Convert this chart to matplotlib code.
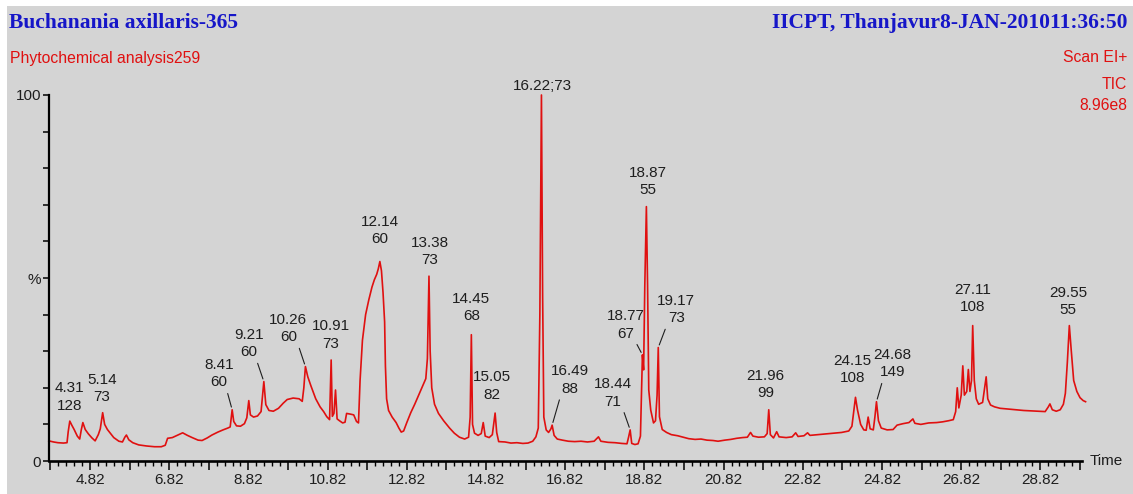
import matplotlib
matplotlib.use('Agg')
import matplotlib.pyplot as plt
import numpy as np
from matplotlib import font_manager
from matplotlib.patches import Rectangle
from matplotlib.ticker import FixedLocator

# retention time (min) and relative abundance (%)
rt = [3.78, 3.90, 4.01, 4.15, 4.24, 4.27, 4.31, 4.36, 4.42, 4.50, 4.56, 4.60, 4.64, 4.70, 4.78,
      4.87, 4.95, 5.03, 5.08, 5.14, 5.19, 5.26, 5.34, 5.42, 5.55, 5.64, 5.70, 5.74, 5.80, 5.90,
      6.05, 6.25, 6.45, 6.62, 6.72, 6.78, 6.90, 7.00, 7.10, 7.16, 7.28, 7.40, 7.55, 7.65, 7.78,
      7.90, 8.05, 8.18, 8.30, 8.36, 8.41, 8.45, 8.52, 8.62, 8.72, 8.78, 8.83, 8.87, 8.95, 9.05,
      9.14, 9.21, 9.26, 9.34, 9.45, 9.58, 9.70, 9.80, 9.95, 10.10, 10.18, 10.22, 10.26, 10.32,
      10.40, 10.52, 10.63, 10.72, 10.80, 10.87, 10.91, 10.94, 10.98, 11.02, 11.06, 11.12, 11.20,
      11.26, 11.30, 11.40, 11.48, 11.55, 11.60, 11.64, 11.70, 11.78, 11.86, 11.94, 12.00, 12.06,
      12.10, 12.14, 12.18, 12.22, 12.26, 12.28, 12.31, 12.36, 12.45, 12.55, 12.62, 12.68, 12.74,
      12.82, 12.92, 13.02, 13.12, 13.22, 13.30, 13.34, 13.38, 13.41, 13.45, 13.52, 13.62, 13.75,
      13.90, 14.02, 14.15, 14.28, 14.38, 14.42, 14.45, 14.48, 14.53, 14.62, 14.70, 14.75, 14.80,
      14.90, 14.98, 15.05, 15.09, 15.14, 15.30, 15.45, 15.60, 15.75, 15.88, 16.00, 16.08, 16.14,
      16.18, 16.22, 16.25, 16.28, 16.34, 16.40, 16.46, 16.49, 16.54, 16.62, 16.75, 16.90, 17.06,
      17.22, 17.38, 17.55, 17.66, 17.72, 17.90, 18.08, 18.25, 18.38, 18.42, 18.46, 18.50, 18.58,
      18.66, 18.72, 18.75, 18.77, 18.80, 18.83, 18.87, 18.90, 18.93, 18.98, 19.05, 19.10, 19.14,
      19.17, 19.20, 19.27, 19.38, 19.50, 19.66, 19.80, 19.94, 20.10, 20.25, 20.40, 20.55, 20.68,
      20.85, 21.00, 21.15, 21.30, 21.42, 21.50, 21.56, 21.70, 21.85, 21.92, 21.96, 22.00, 22.08,
      22.16, 22.22, 22.40, 22.55, 22.64, 22.70, 22.85, 22.94, 23.00, 23.20, 23.40, 23.60, 23.80,
      23.98, 24.06, 24.10, 24.15, 24.20, 24.28, 24.36, 24.42, 24.47, 24.52, 24.60, 24.64, 24.68,
      24.73, 24.80, 24.95, 25.10, 25.20, 25.35, 25.50, 25.60, 25.65, 25.80, 26.00, 26.20, 26.35,
      26.50, 26.62, 26.68, 26.72, 26.76, 26.82, 26.86, 26.90, 26.96, 27.00, 27.04, 27.08, 27.11,
      27.15, 27.20, 27.26, 27.36, 27.41, 27.45, 27.49, 27.56, 27.66, 27.80, 28.00, 28.20, 28.40,
      28.57, 28.75, 28.94, 29.02, 29.06, 29.12, 29.22, 29.32, 29.40, 29.45, 29.50, 29.55, 29.60,
      29.66, 29.74, 29.82, 29.90, 29.96]
pct = [5.5, 5.2, 5.0, 4.9, 5.0, 8.0, 10.9, 9.8, 8.6, 6.8, 6.0, 8.5, 10.5, 8.6, 7.4,
       6.3, 5.5, 7.2, 8.8, 13.2, 10.0, 8.6, 7.5, 6.4, 5.4, 5.2, 6.5, 7.1, 5.8, 5.0,
       4.4, 4.1, 3.9, 3.9, 4.3, 6.2, 6.4, 6.9, 7.4, 7.7, 7.0, 6.4, 5.7, 5.6, 6.3,
       7.1, 7.9, 8.5, 9.0, 9.3, 14.0, 10.8, 9.6, 9.5, 10.2, 11.8, 16.5, 12.6, 12.0, 12.3,
       13.5, 21.7, 15.4, 13.8, 13.6, 14.4, 15.8, 16.8, 17.2, 17.0, 16.3, 20.0, 25.8, 23.0,
       20.5, 17.0, 14.8, 13.5, 12.1, 11.3, 27.6, 12.2, 13.0, 19.4, 11.5, 11.0, 10.4,
       10.6, 13.0, 12.8, 12.6, 10.8, 10.4, 22.0, 33.0, 40.0, 44.0, 47.5, 49.5, 51.0,
       52.5, 54.5, 52.0, 46.0, 38.0, 26.0, 17.0, 13.8, 12.0, 10.5, 9.0, 7.9, 8.2,
       10.5, 13.2, 15.5, 18.0, 20.5, 22.5, 28.0, 50.5, 30.0, 20.0, 15.5, 13.0, 11.0,
       9.0, 7.6, 6.5, 6.0, 6.5, 12.0, 34.5, 10.0, 7.6, 7.0, 7.5, 10.5, 6.8,
       6.4, 7.2, 13.1, 7.8, 5.3, 5.2, 4.9, 5.0, 4.8, 4.9, 5.4, 6.6, 9.0,
       40.0, 100.0, 45.0, 12.0, 8.5, 7.8, 8.8, 9.8, 7.0, 6.0, 5.7, 5.4, 5.3,
       5.4, 5.2, 5.4, 6.6, 5.4, 5.1, 5.0, 4.8, 4.7, 6.5, 8.5, 4.8, 4.5,
       4.7, 6.8, 20.0, 29.0, 24.9, 48.0, 69.5, 48.0, 19.4, 13.9, 10.4, 11.0, 18.0,
       31.0, 12.1, 8.6, 7.8, 7.2, 6.9, 6.5, 6.1, 5.9, 6.0, 5.7, 5.6, 5.4,
       5.7, 5.9, 6.2, 6.4, 6.5, 7.8, 6.8, 6.5, 6.6, 7.5, 14.0, 7.2, 6.3,
       8.0, 6.6, 6.4, 6.6, 7.7, 6.7, 6.9, 7.7, 7.0, 7.2, 7.4, 7.6, 7.8,
       8.2, 9.5, 13.0, 17.4, 14.0, 10.0, 8.5, 8.4, 12.0, 8.8, 8.5, 12.0, 16.2,
       11.0, 9.0, 8.5, 8.6, 9.8, 10.2, 10.5, 11.5, 10.3, 10.0, 10.4, 10.5, 10.7,
       11.0, 11.3, 13.5, 20.0, 14.5, 18.0, 26.0, 18.0, 19.0, 25.0, 19.0, 22.0, 37.0,
       22.0, 17.0, 15.5, 16.0, 20.0, 23.0, 17.0, 15.3, 14.8, 14.4, 14.2, 14.0, 13.8,
       13.7, 13.6, 13.5, 14.8, 15.6, 14.0, 13.6, 14.0, 15.5, 18.5, 27.0, 37.0, 30.0,
       22.0, 19.0, 17.3, 16.5, 16.2]

# peak annotations: retention time and text
peak_rt = [4.31, 5.14, 8.41, 9.21, 10.26, 10.91, 12.14, 13.38, 14.45, 15.05, 16.22,
           16.49, 18.46, 18.77, 18.87, 19.17, 21.96, 24.15, 24.68, 27.11, 29.55]
peak_text = ['4.31\n128', '5.14\n73', '8.41\n60', '9.21\n60', '10.26\n60', '10.91\n73',
             '12.14\n60', '13.38\n73', '14.45\n68', '15.05\n82', '16.22;73', '16.49\n88',
             '18.44\n71', '18.77\n67', '18.87\n55', '19.17\n73', '21.96\n99', '24.15\n108',
             '24.68\n149', '27.11\n108', '29.55\n55']

# label offsets from the peak in pixels (dx, dy) and leader side
label_off = [(0, 24), (-1, 24), (-13, 36), (-15, 38), (-17, 38), (0, 25), (0, 31), (1, 25),
             (0, 27), (-3, 27), (1, 9), (18, 45), (-17, 37), (-17, 30), (1, 25), (18, 38),
             (-3, 25), (-3, 28), (16, 38), (0, 27), (-1, 24)]
leader = [None, None, 'L', 'L', 'L', None, None, None, None, None, None, 'R',
          'L', 'L', None, 'R', None, None, 'R', None, None]

names = {f.name for f in font_manager.fontManager.ttflist}
if 'Liberation Sans Narrow' in names:
    sans, lab_size, red_size = 'Liberation Sans Narrow', 12.5, 13.5
else:
    sans, lab_size, red_size = 'Liberation Sans', 11, 11.3

BG = '#d4d4d4'
RED = '#e01010'
BLUE = '#1616c8'
INK = '#1e1e1e'
W, H = 1133, 494

fig = plt.figure(figsize=(W / 100, H / 100), dpi=100, facecolor='white')
fig.patches.append(Rectangle((7 / W, 0), 1 - 7 / W, 488 / H, transform=fig.transFigure,
                             facecolor=BG, edgecolor='none', zorder=-10))

ax = fig.add_axes([49 / W, 33 / H, 1033 / W, 366 / H])
ax.set_facecolor('none')
ax.plot(rt, pct, color=RED, lw=1.2, clip_on=False)
ax.set_xlim(3.785, 29.87)
ax.set_ylim(0, 100)

for s in ['top', 'right']:
    ax.spines[s].set_visible(False)
ax.spines['left'].set_linewidth(1.6)
ax.spines['bottom'].set_linewidth(1.9)

major_x = np.arange(3.82, 29.9, 1.0)
ax.xaxis.set_major_locator(FixedLocator(major_x))
ax.xaxis.set_minor_locator(FixedLocator(np.arange(3.82, 29.9, 0.2)))
ax.set_xticklabels(['%.2f' % v if round(v - 4.82) % 2 == 0 else '' for v in major_x],
                   family=sans, fontsize=lab_size, color=INK)
ax.yaxis.set_major_locator(FixedLocator(np.arange(0, 101, 10)))
ax.set_yticklabels(['0', '', '', '', '', '%', '', '', '', '', '100'],
                   family=sans, fontsize=lab_size, color=INK)
ax.tick_params(axis='x', which='major', length=6.5, width=1.1, pad=2)
ax.tick_params(axis='x', which='minor', length=3.5, width=1.0)
ax.tick_params(axis='y', which='major', length=4.5, width=1.1, pad=1)

ax.text(1.007, 0.0, 'Time', transform=ax.transAxes, ha='left', va='center',
        family=sans, fontsize=lab_size, color=INK)

rt_a = np.array(rt)
pct_a = np.array(pct)
for t, txt, (dx, dy), side in zip(peak_rt, peak_text, label_off, leader):
    near = np.abs(rt_a - t) < 0.035
    y = pct_a[near].max()
    kw = {}
    if side is not None:
        kw['arrowprops'] = dict(arrowstyle='-', color=INK, lw=0.8, shrinkA=1, shrinkB=2,
                                relpos=(0.75, 0.0) if side == 'L' else (0.25, 0.0))
    ax.annotate(txt, xy=(t, y), xytext=(dx * 0.72, dy * 0.72), textcoords='offset points',
                ha='center', va='center', family=sans, fontsize=lab_size, color=INK,
                linespacing=1.3, annotation_clip=False, **kw)

fig.text(9 / W, 1 - 23 / H, 'Buchanania axillaris-365', ha='left', va='center',
         family='Liberation Serif', weight='bold', fontsize=15.5, color=BLUE)
fig.text(1128 / W, 1 - 23 / H, 'IICPT, Thanjavur8-JAN-201011:36:50', ha='right', va='center',
         family='Liberation Serif', weight='bold', fontsize=15.5, color=BLUE)
fig.text(10 / W, 1 - 58 / H, 'Phytochemical analysis259', ha='left', va='center',
         family=sans, fontsize=red_size, color=RED)
for txt, yy in [('Scan EI+', 58), ('TIC', 84), ('8.96e8', 106)]:
    fig.text(1127 / W, 1 - yy / H, txt, ha='right', va='center',
             family=sans, fontsize=red_size, color=RED)

fig.savefig('out.png', dpi=100, facecolor='white')
